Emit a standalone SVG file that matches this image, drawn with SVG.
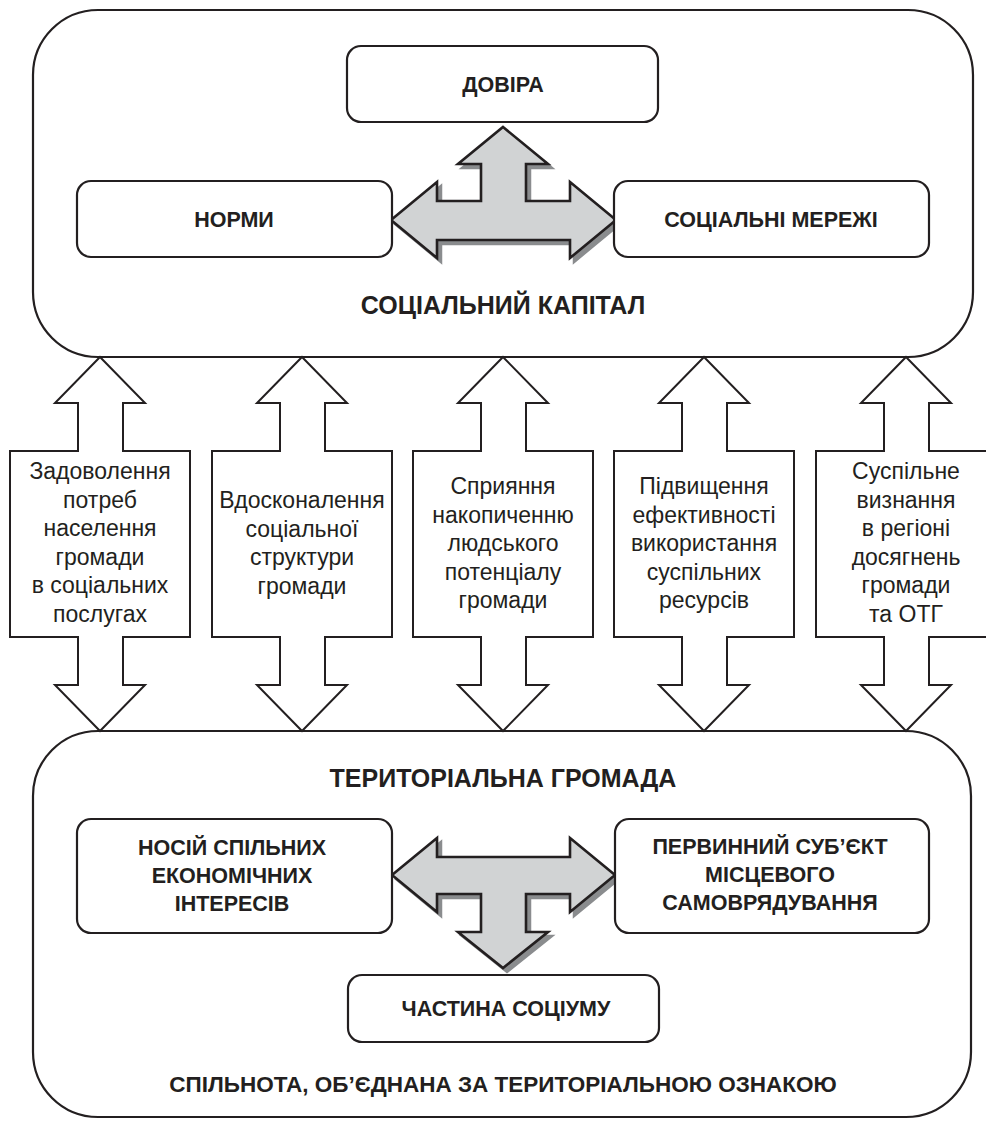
<svg xmlns="http://www.w3.org/2000/svg" width="986" height="1126" viewBox="0 0 986 1126">
<style>
.big{fill:#fff;stroke:#231f20;stroke-width:2.2}
.box{fill:#fff;stroke:#231f20;stroke-width:2.2}
.cross{fill:#d1d3d4;stroke:#231f20;stroke-width:2.6;stroke-linejoin:miter}
.shadow{fill:#8a8c8e;stroke:#8a8c8e;stroke-width:2.5}
.va{fill:#fff;stroke:#231f20;stroke-width:2}
.b{font-family:"Liberation Sans",Arial,sans-serif;font-weight:bold;font-size:21.5px;fill:#231f20;text-anchor:middle}
.t{font-family:"Liberation Sans",Arial,sans-serif;font-weight:bold;font-size:25px;fill:#231f20;text-anchor:middle}
.f{font-family:"Liberation Sans",Arial,sans-serif;font-weight:bold;font-size:22.5px;fill:#231f20;text-anchor:middle}
.r{font-family:"Liberation Sans",Arial,sans-serif;font-size:23px;fill:#231f20;text-anchor:middle}
</style>
<rect width="986" height="1126" fill="#fff"/>
<g id="social-capital">
<rect class="big" x="33" y="10" width="940" height="347" rx="65" ry="65"/>
<text class="t" x="503" y="314">СОЦІАЛЬНИЙ КАПІТАЛ</text>
</g>
<g id="community">
<rect class="big" x="33" y="731" width="938" height="386" rx="65" ry="65"/>
<text class="t" x="503" y="787">ТЕРИТОРІАЛЬНА ГРОМАДА</text>
<text class="f" x="503" y="1092">СПІЛЬНОТА, ОБ’ЄДНАНА ЗА ТЕРИТОРІАЛЬНОЮ ОЗНАКОЮ</text>
</g>
<g id="connectors">
<path class="shadow" transform="translate(4,4)" d="M503,127 L548,164 L526,164 L526,201 L570,201 L570,182 L616,220 L570,258 L570,240 L437,240 L437,258 L391,220 L437,182 L437,201 L481,201 L481,164 L458,164 Z"/>
<path class="cross" d="M503,127 L548,164 L526,164 L526,201 L570,201 L570,182 L616,220 L570,258 L570,240 L437,240 L437,258 L391,220 L437,182 L437,201 L481,201 L481,164 L458,164 Z"/>
<path class="shadow" transform="translate(4,4)" d="M392,875 L437,838 L437,857 L570,857 L570,838 L615,875 L570,912 L570,894 L526,894 L526,932 L548,932 L503,968 L458,932 L481,932 L481,894 L437,894 L437,912 Z"/>
<path class="cross" d="M392,875 L437,838 L437,857 L570,857 L570,838 L615,875 L570,912 L570,894 L526,894 L526,932 L548,932 L503,968 L458,932 L481,932 L481,894 L437,894 L437,912 Z"/>
</g>
<g id="trust"><rect class="box" x="347" y="46" width="311" height="76" rx="14"/><text class="b" x="503" y="92">ДОВІРА</text></g>
<g id="norms"><rect class="box" x="77" y="181" width="315" height="76" rx="14"/><text class="b" x="234" y="227">НОРМИ</text></g>
<g id="networks"><rect class="box" x="614" y="181" width="315" height="76" rx="14"/><text class="b" x="771" y="227">СОЦІАЛЬНІ МЕРЕЖІ</text></g>
<g id="carrier"><rect class="box" x="77" y="819" width="315" height="114" rx="14"/>
<text class="b" x="232" y="855">НОСІЙ СПІЛЬНИХ</text><text class="b" x="232" y="883">ЕКОНОМІЧНИХ</text><text class="b" x="232" y="911">ІНТЕРЕСІВ</text></g>
<g id="subject"><rect class="box" x="615" y="819" width="314" height="114" rx="14"/>
<text class="b" x="770" y="854">ПЕРВИННИЙ СУБ’ЄКТ</text><text class="b" x="770" y="882">МІСЦЕВОГО</text><text class="b" x="770" y="910">САМОВРЯДУВАННЯ</text></g>
<g id="society"><rect class="box" x="348" y="975" width="311" height="67" rx="14"/><text class="b" x="506" y="1016">ЧАСТИНА СОЦІУМУ</text></g>
<g id="arrow1">
<path class="va" d="M100,357 L145,403 L123,403 L123,451 L190,451 L190,637 L123,637 L123,685 L145,685 L100,731 L55,685 L78,685 L78,637 L10,637 L10,451 L78,451 L78,403 L55,403 Z"/>
<text class="r" x="100" y="479">Задоволення</text><text class="r" x="100" y="507.5">потреб</text><text class="r" x="100" y="536">населення</text><text class="r" x="100" y="564.5">громади</text><text class="r" x="100" y="593">в соціальних</text><text class="r" x="100" y="621.5">послугах</text>
</g>
<g id="arrow2">
<path class="va" d="M302,357 L347,403 L325,403 L325,451 L392,451 L392,637 L325,637 L325,685 L347,685 L302,731 L257,685 L280,685 L280,637 L212,637 L212,451 L280,451 L280,403 L257,403 Z"/>
<text class="r" x="302" y="508">Вдосконалення</text><text class="r" x="302" y="536.5">соціальної</text><text class="r" x="302" y="565">структури</text><text class="r" x="302" y="593.5">громади</text>
</g>
<g id="arrow3">
<path class="va" d="M503,357 L548,403 L526,403 L526,451 L593,451 L593,637 L526,637 L526,685 L548,685 L503,731 L458,685 L481,685 L481,637 L413,637 L413,451 L481,451 L481,403 L458,403 Z"/>
<text class="r" x="503" y="494">Сприяння</text><text class="r" x="503" y="522.5">накопиченню</text><text class="r" x="503" y="551">людського</text><text class="r" x="503" y="579.5">потенціалу</text><text class="r" x="503" y="608">громади</text>
</g>
<g id="arrow4">
<path class="va" d="M704,357 L749,403 L727,403 L727,451 L794,451 L794,637 L727,637 L727,685 L749,685 L704,731 L659,685 L682,685 L682,637 L614,637 L614,451 L682,451 L682,403 L659,403 Z"/>
<text class="r" x="704" y="494">Підвищення</text><text class="r" x="704" y="522.5">ефективності</text><text class="r" x="704" y="551">використання</text><text class="r" x="704" y="579.5">суспільних</text><text class="r" x="704" y="608">ресурсів</text>
</g>
<g id="arrow5">
<path class="va" d="M906,357 L951,403 L929,403 L929,451 L996,451 L996,637 L929,637 L929,685 L951,685 L906,731 L861,685 L884,685 L884,637 L816,637 L816,451 L884,451 L884,403 L861,403 Z"/>
<text class="r" x="906" y="479">Суспільне</text><text class="r" x="906" y="507.5">визнання</text><text class="r" x="906" y="536">в регіоні</text><text class="r" x="906" y="564.5">досягнень</text><text class="r" x="906" y="593">громади</text><text class="r" x="906" y="621.5">та ОТГ</text>
</g>
</svg>
